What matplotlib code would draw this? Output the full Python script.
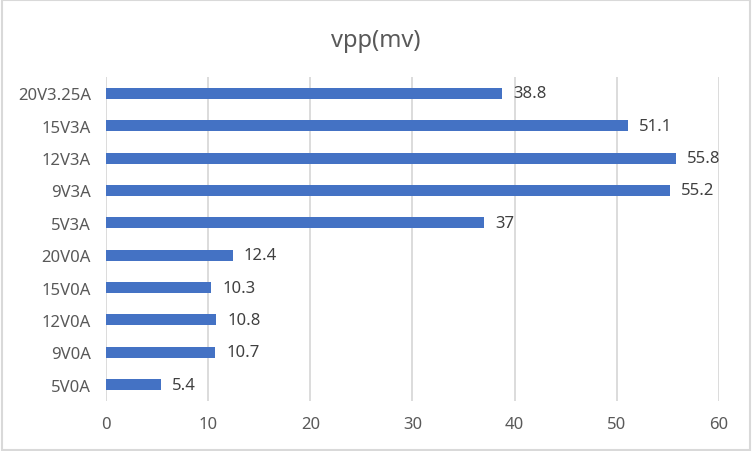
import matplotlib.pyplot as plt
from matplotlib.patches import Rectangle

plt.rcParams['font.family'] = ['Noto Sans', 'DejaVu Sans']

# 数据（自上而下）
categories = ['20V3.25A', '15V3A', '12V3A', '9V3A', '5V3A',
              '20V0A', '15V0A', '12V0A', '9V0A', '5V0A']
values = [38.8, 51.1, 55.8, 55.2, 37, 12.4, 10.3, 10.8, 10.7, 5.4]
x_ticks = [0, 10, 20, 30, 40, 50, 60]

fig = plt.figure(figsize=(7.52, 4.52), dpi=100)
ax = fig.add_axes([0.141, 0.111, 0.815, 0.716])

ypos = list(range(len(categories)))[::-1]
ax.barh(ypos, values, height=0.34, color='#4472C4', zorder=3)

for y, v in zip(ypos, values):
    label = f'{v:g}'
    ax.text(v + 1.1, y, label, va='center', ha='left', fontsize=12, color='#404040')

ax.set_xlim(0, 60)
ax.set_ylim(-0.5, len(categories) - 0.5)
ax.set_xticks(x_ticks)
ax.set_yticks(ypos)
ax.set_yticklabels(categories)
ax.tick_params(axis='both', length=0, labelsize=12, colors='#595959')
ax.tick_params(axis='x', pad=11)
ax.tick_params(axis='y', pad=11)

ax.grid(axis='x', color='#D9D9D9', linewidth=1.3, zorder=0)
for s in ax.spines.values():
    s.set_visible(False)

fig.text(0.5, 0.91, 'vpp(mv)', ha='center', va='center', fontsize=17, color='#595959')

# 图表外框
fig.patches.append(Rectangle((0.002, 0.003), 0.996, 0.994, transform=fig.transFigure,
                             fill=False, edgecolor='#D9D9D9', linewidth=1.5))

fig.savefig('out.png', dpi=100)
